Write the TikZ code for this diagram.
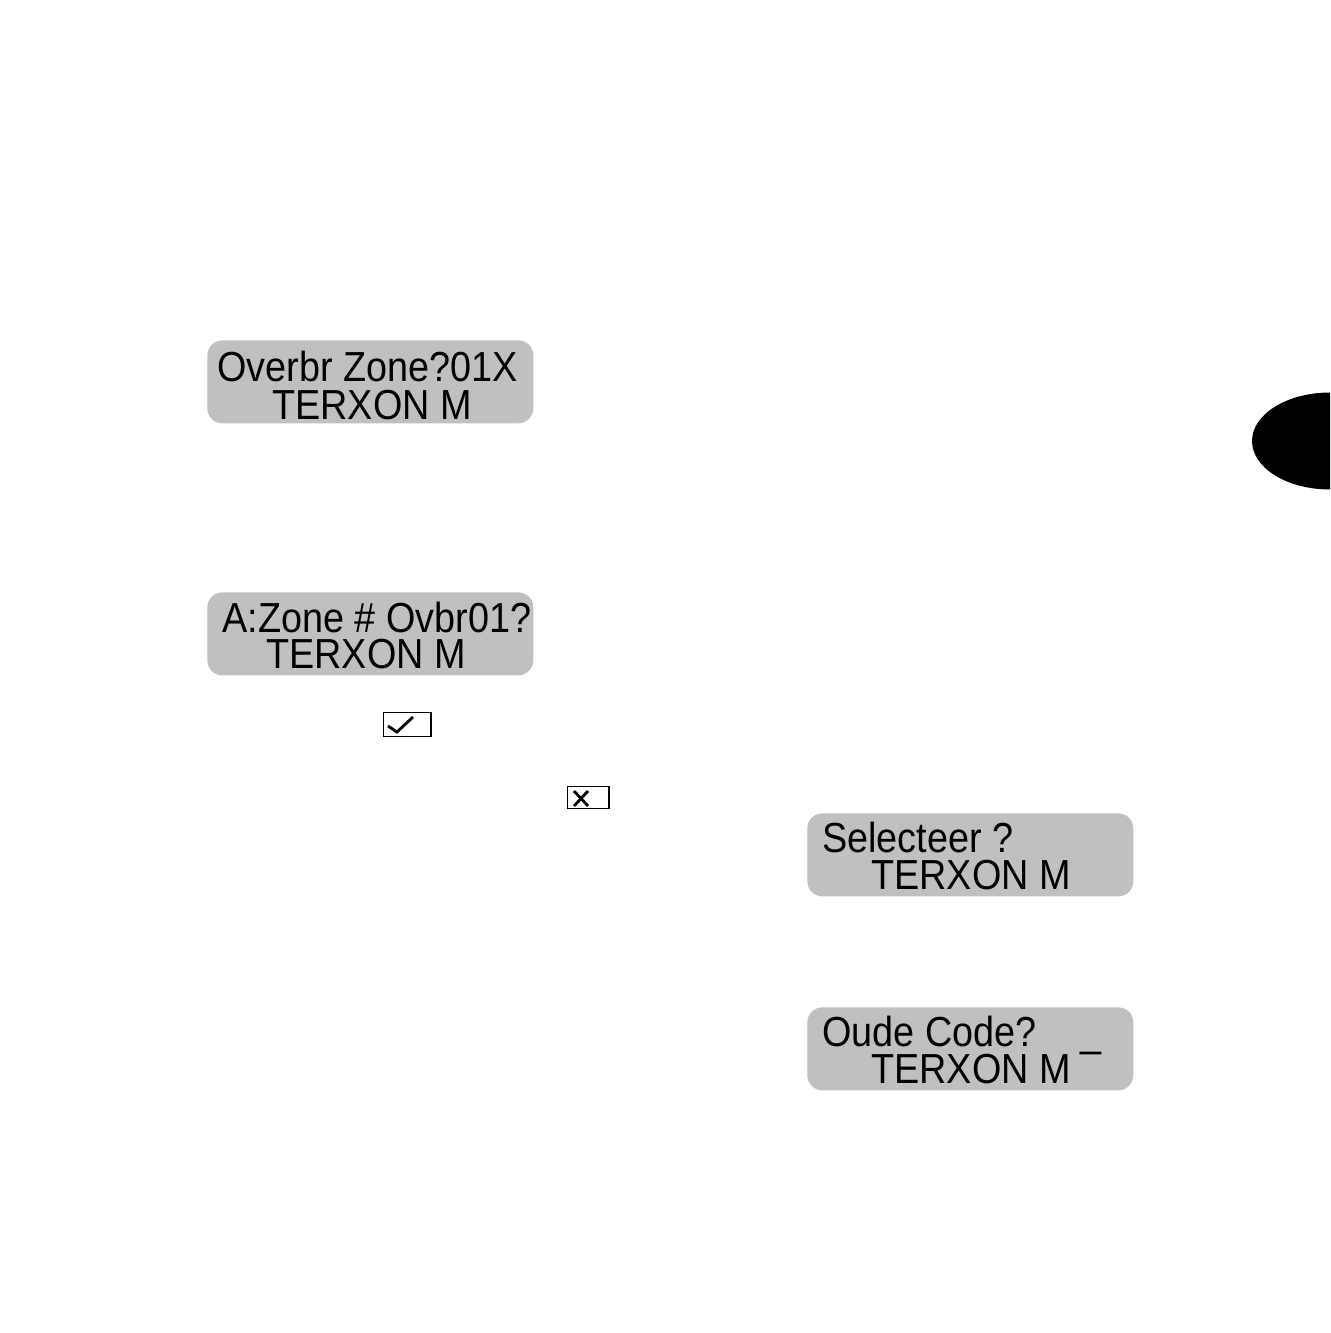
\documentclass[tikz,border=0pt]{standalone}
\usepackage{fontspec}
\newfontfamily\lcdfont[FakeStretch=0.9]{Liberation Sans}
\usetikzlibrary{positioning}
\definecolor{lcdgray}{HTML}{C0C0C0}

\begin{document}
\begin{tikzpicture}[
  x=0.02cm, y=-0.02cm,
  lcd/.style={fill=lcdgray, rounded corners=0.3cm, minimum width=6.52cm,
              minimum height=1.66cm, anchor=north west, inner sep=0pt},
  lcdline/.style={anchor=base west, inner sep=0pt, font=\lcdfont\fontsize{23.9pt}{26pt}\selectfont},
  key/.style={draw, line width=0.75pt, anchor=north west, inner sep=0pt},
  keymark/.style={line width=1.6pt}
]
  \useasboundingbox (0,0) rectangle (1330,1333);

  % Tab marker
  \begin{scope}
    \clip (0,0) rectangle (1330,1333);
    \fill (1330,441) ellipse [x radius=1.56cm, y radius=0.97cm];
  \end{scope}

  % Displays
  \node[lcd] (overbr) at (207,340) {};
  \node[lcdline] (overbr1) at (217,381) {Overbr Zone?01X};
  \node[lcdline] (overbr2) at (272,419) {TERXON M};

  \node[lcd] (zonenr) at (207,592) {};
  \node[lcdline] (zonenr1) at (222,632) {A:Zone \# Ovbr01?};
  \node[lcdline] (zonenr2) at (266,668) {TERXON M};

  \node[lcd] (select) at (807,813) {};
  \node[lcdline] (select1) at (822,852) {Selecteer ?};
  \node[lcdline] (select2) at (871,889) {TERXON M};

  \node[lcd] (oldcode) at (807,1007) {};
  \node[lcdline] (oldcode1) at (822,1046) {Oude Code?};
  \node[lcdline] (cursor) at (1080,1046) {\_};
  \node[lcdline] (oldcode2) at (871,1083) {TERXON M};

  % Keys
  \node[key, minimum width=0.95cm, minimum height=0.47cm] (okkey) at (383,712) {};
  \draw[keymark] (388,726) -- (397,732) -- (413,717);

  \node[key, minimum width=0.83cm, minimum height=0.44cm] (nokey) at (567,786) {};
  \draw[keymark] (574,791) -- (588,806) (588,791) -- (574,806);
\end{tikzpicture}
\end{document}
